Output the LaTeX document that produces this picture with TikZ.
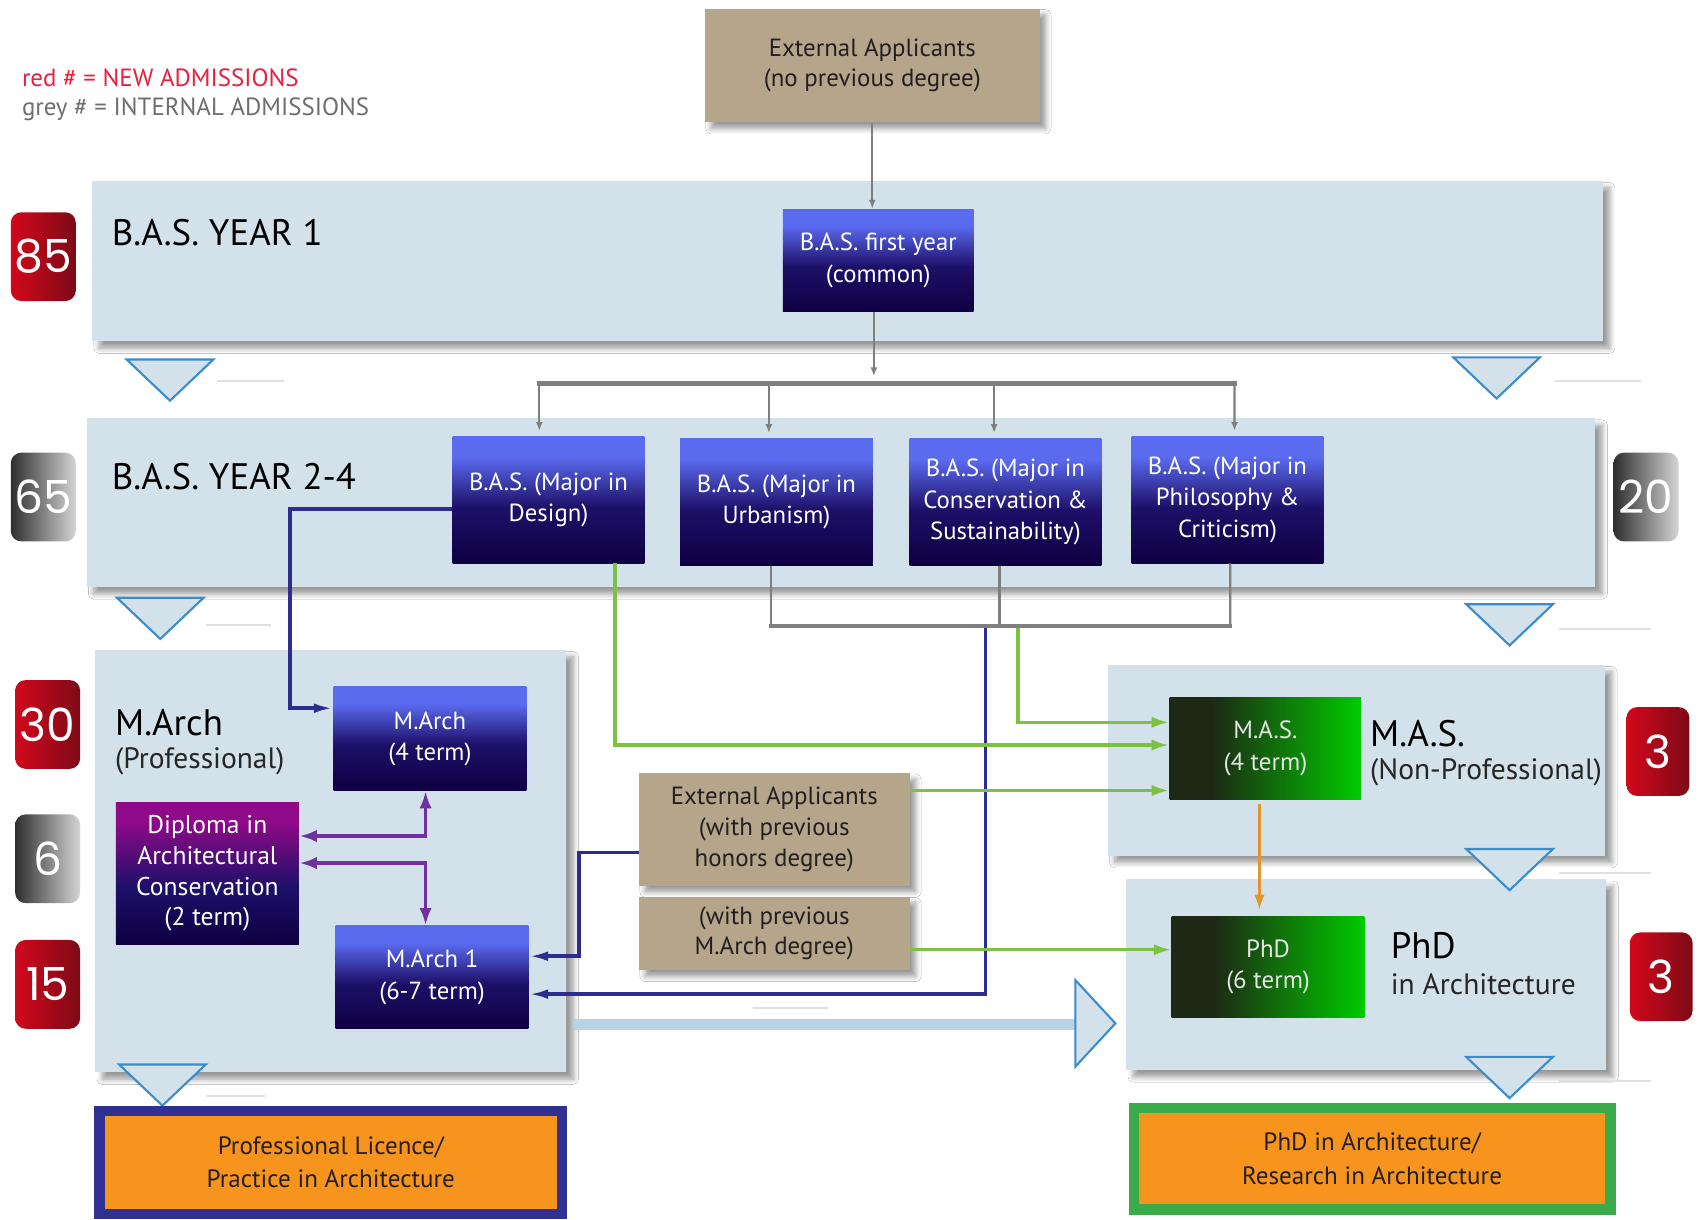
\documentclass[tikz,border=0pt]{standalone}
\usepackage{fontspec}
\setmainfont{PT Sans}
\newfontfamily\badgefont{Poppins}
\usetikzlibrary{arrows.meta,shadows,shadows.blur,calc}

\definecolor{bandc}{HTML}{D3E1EA}
\definecolor{tanc}{HTML}{B5A68B}
\definecolor{navyD}{HTML}{0E0042}
\definecolor{navyM}{HTML}{1D1068}
\definecolor{blueT}{HTML}{5B6BF0}
\definecolor{purT}{HTML}{8E0A88}
\definecolor{greenD}{HTML}{1D2914}
\definecolor{greenB}{HTML}{00CB00}
\definecolor{redL}{HTML}{D2081C}
\definecolor{redR}{HTML}{7D0A16}
\definecolor{greyL}{HTML}{2F2F2F}
\definecolor{greyR}{HTML}{D5D5D5}
\definecolor{legred}{HTML}{E8203F}
\definecolor{leggrey}{HTML}{6E6E6E}
\definecolor{linegrey}{HTML}{7F7F7F}
\definecolor{navyline}{HTML}{2E2C8F}
\definecolor{greenline}{HTML}{7DC142}
\definecolor{purline}{HTML}{7030A0}
\definecolor{orangeline}{HTML}{E3962E}
\definecolor{tric}{HTML}{3B8CCB}
\definecolor{barblue}{HTML}{B7D3E4}
\definecolor{orangefill}{HTML}{F7941D}
\definecolor{bordnavy}{HTML}{2E3192}
\definecolor{bordgreen}{HTML}{3BAA4A}
\definecolor{darktext}{HTML}{231F20}

\pgfdeclareverticalshading{blueboxsh}{100bp}{color(0bp)=(navyD); color(25bp)=(navyD); color(47bp)=(navyM); color(67bp)=(blueT); color(75bp)=(blueT); color(100bp)=(blueT)}
\pgfdeclareverticalshading{purpboxsh}{100bp}{color(0bp)=(navyD); color(25bp)=(navyD); color(45bp)=(navyM); color(68bp)=(purT); color(75bp)=(purT); color(100bp)=(purT)}
\pgfdeclarehorizontalshading{greenboxsh}{100bp}{color(0bp)=(greenD); color(25bp)=(greenD); color(36bp)=(greenD); color(75bp)=(greenB); color(100bp)=(greenB)}
\pgfdeclarehorizontalshading{redbadgesh}{100bp}{color(0bp)=(redL); color(25bp)=(redL); color(75bp)=(redR); color(100bp)=(redR)}
\pgfdeclarehorizontalshading{greybadgesh}{100bp}{color(0bp)=(greyL); color(25bp)=(greyL); color(75bp)=(greyR); color(100bp)=(greyR)}

\newcommand\uu{0.0217cm}

\tikzset{
  band/.style={fill=bandc, draw=none, inner sep=0pt,
    blur shadow={shadow xshift=4pt, shadow yshift=-4pt, shadow blur radius=3pt, shadow blur steps=8, shadow opacity=40}},
  tanbox/.style={fill=tanc, align=center, inner sep=0pt, text=darktext,
    font=\fontsize{14.2}{17.5}\selectfont,
    blur shadow={shadow xshift=3.5pt, shadow yshift=-3.5pt, shadow blur radius=3pt, shadow blur steps=6, shadow opacity=40}},
  bluebox/.style={shade, shading=blueboxsh, align=center, inner sep=0pt, text=white,
    font=\fontsize{14.1}{17.8}\selectfont},
  purpbox/.style={shade, shading=purpboxsh, align=center, inner sep=0pt, text=white,
    font=\fontsize{14.6}{17.6}\selectfont},
  greenbox/.style={shade, shading=greenboxsh, align=center, inner sep=0pt, text=white!90!black,
    font=\fontsize{14.2}{17.8}\selectfont},
  badge/.style={shade, rounded corners=6pt, minimum width=60*\uu, minimum height=82*\uu,
    inner sep=0pt, text=white, font=\badgefont\fontsize{26}{26}\selectfont},
  redbadge/.style={badge, shading=redbadgesh},
  greybadge/.style={badge, shading=greybadgesh},
  title/.style={anchor=west, inner sep=0pt, text=black, font=\fontsize{21}{26}\selectfont},
  subtitle/.style={anchor=west, inner sep=0pt, text=black!85, font=\fontsize{16.8}{20}\selectfont},
  legend/.style={anchor=west, inner sep=0pt, font=\fontsize{14.2}{17}\selectfont},
  outbox/.style={fill=orangefill, line width=6pt, align=center, inner sep=0pt, text=darktext,
    font=\fontsize{14.3}{19}\selectfont},
  greyarr/.style={draw=linegrey, line width=1.3pt, -{Latex[length=5pt,width=4pt]}},
  greyline/.style={draw=linegrey, line width=1.3pt},
  greybar/.style={draw=linegrey, line width=2.6pt, line cap=rect},
  navyarr/.style={draw=navyline, line width=2pt, -{Latex[length=11pt,width=5.5pt]}},
  greenarr/.style={draw=greenline, line width=2pt, -{Latex[length=10pt,width=6.5pt]}},
  purparr/.style={draw=purline, line width=2pt, {Latex[length=10pt,width=7pt]}-{Latex[length=10pt,width=7pt]}},
  orangearr/.style={draw=orangeline, line width=1.8pt, -{Latex[length=9pt,width=6pt]}},
  lbar/.style={draw=barblue, line width=6pt},
  tri/.style={draw=tric, fill=bandc, line width=1.2pt, line join=miter},
  faint/.style={draw=black!12, line width=0.9pt},
  dtri/.pic={\draw[tri] (-40,0) -- (40,0) -- (0,38) -- cycle;}
}

\begin{document}
\begin{tikzpicture}[x=0.0217cm,y=-0.0217cm]
\useasboundingbox[fill=white] (0,0) rectangle (1568,1126);

% legend
\node[legend, text=legred] (leg1) at (20,72) {red \# = NEW ADMISSIONS};
\node[legend, text=leggrey] (leg2) at (20,101) {grey \# = INTERNAL ADMISSIONS};

% bands
\node[band, minimum width=1395*\uu, minimum height=148*\uu] (band1) at (782.5,241) {};
\node[band, minimum width=1393*\uu, minimum height=156*\uu] (band2) at (776.5,464) {};
\node[band, minimum width=435*\uu, minimum height=390*\uu] (band3) at (305.5,795) {};
\node[band, minimum width=459*\uu, minimum height=176*\uu] (band4) at (1252.5,702) {};
\node[band, minimum width=443*\uu, minimum height=176*\uu] (band5) at (1261.5,900) {};

% faint guide lines and triangles
\draw[faint] (200,352) -- (262,352);
\draw[faint] (1436,352) -- (1515,352);
\draw[faint] (190,577) -- (250,577);
\draw[faint] (1440,581) -- (1525,581);
\draw[faint] (1440,806) -- (1525,806);
\draw[faint] (190,1012) -- (245,1012);
\draw[faint] (1440,998) -- (1525,998);
\draw[faint] (695,931) -- (765,931);
\pic at (157,332) {dtri};
\pic at (1382,330) {dtri};
\pic at (148,552) {dtri};
\pic at (1394,558) {dtri};
\pic at (1394,784) {dtri};
\pic at (150,983) {dtri};
\pic at (1394,976) {dtri};

% titles
\node[title] (t1) at (103,215) {B.A.S. YEAR 1};
\node[title] (t2) at (103,440) {B.A.S. YEAR 2-4};
\node[title] (t3) at (106,667) {M.Arch};
\node[subtitle] (t3b) at (106,703) {(Professional)};
\node[title] (t4) at (1265,677) {M.A.S.};
\node[subtitle] (t4b) at (1265,713) {(Non-Professional)};
\node[title] (t5) at (1284,873) {PhD};
\node[subtitle] (t5b) at (1284,909) {in Architecture};

% badges
\node[redbadge] (b85) at (40,237) {85};
\node[greybadge] (b65) at (40,459) {65};
\node[greybadge] (b20) at (1520,459) {20};
\node[redbadge] (b30) at (44,669) {30};
\node[greybadge] (b6) at (44,793) {6};
\node[redbadge] (b15) at (44,909) {15};
\node[redbadge, minimum width=58*\uu] (b3a) at (1531,694) {3};
\node[redbadge, minimum width=58*\uu] (b3b) at (1534,902) {3};

% boxes
\node[tanbox, minimum width=309*\uu, minimum height=105*\uu] (ext1) at (805.5,60.5) {External Applicants\\(no previous degree)};
\node[bluebox, minimum width=176*\uu, minimum height=95*\uu] (first) at (811,240.5) {B.A.S. first year\\(common)};
\node[bluebox, minimum width=177*\uu, minimum height=117*\uu] (design) at (506.5,461.5) {B.A.S. (Major in\\Design)};
\node[bluebox, minimum width=178*\uu, minimum height=117*\uu] (urban) at (717,463.5) {B.A.S. (Major in\\Urbanism)};
\node[bluebox, minimum width=177*\uu, minimum height=117*\uu] (cons) at (928.5,463.5) {B.A.S. (Major in\\Conservation \&\\Sustainability)};
\node[bluebox, minimum width=177*\uu, minimum height=117*\uu] (phil) at (1133.5,461.5) {B.A.S. (Major in\\Philosophy \&\\Criticism)};
\node[bluebox, minimum width=178*\uu, minimum height=96*\uu] (m4) at (397,682) {M.Arch\\(4 term)};
\node[purpbox, minimum width=169*\uu, minimum height=131*\uu] (dipl) at (191.5,806.5) {Diploma in\\Architectural\\Conservation\\(2 term)};
\node[bluebox, minimum width=178*\uu, minimum height=95*\uu] (m1) at (399,902.5) {M.Arch 1\\(6-7 term)};
\node[tanbox, minimum width=250*\uu, minimum height=104*\uu] (ext2) at (715,766) {External Applicants\\(with previous\\honors degree)};
\node[tanbox, minimum width=250*\uu, minimum height=68*\uu] (ext3) at (715,862) {(with previous\\M.Arch degree)};
\node[greenbox, minimum width=177*\uu, minimum height=94*\uu] (mas) at (1168.5,691) {M.A.S.\\(4 term)};
\node[greenbox, minimum width=178*\uu, minimum height=94*\uu] (phd) at (1171,893) {PhD\\(6 term)};
\node[outbox, draw=bordnavy, minimum width=427*\uu, minimum height=95*\uu] (out1) at (305.5,1073.5) {Professional Licence/\\Practice in Architecture};
\node[outbox, draw=bordgreen, minimum width=440*\uu, minimum height=94*\uu] (out2) at (1267,1070) {PhD in Architecture/\\Research in Architecture};

% grey connectors
\coordinate (barL) at (498,354);
\coordinate (barR) at (1140,354);
\coordinate (gbL) at (712,578);
\coordinate (gbR) at (1136,578);
\draw[greyarr] (ext1.south) -- (ext1.south |- first.north);
\draw[greyarr] ($(first.south)+(-4,0)$) -- ++(0,59);
\draw[greybar] (barL) -- (barR);
\draw[greyarr, shorten >=3pt] (barL) -- ($(design.north)+(-8.5,0)$);
\draw[greyarr, shorten >=3pt] (710,354) -- ($(urban.north)+(-7,0)$);
\draw[greyarr, shorten >=3pt] (918,354) -- ($(cons.north)+(-10.5,0)$);
\draw[greyarr, shorten >=3pt] (barR) -- ($(phil.north)+(6.5,0)$);
\draw[greyline] ($(urban.south)+(-5,0)$) -- (gbL);
\draw[greyline] ($(cons.south)+(-5.5,0)$) -- (923,578);
\draw[greyline] ($(phil.south)+(2.5,0)$) -- (gbR);
\draw[greybar] (gbL) -- (gbR);

% navy connectors
\draw[navyarr] ($(design.west)+(0,8.5)$) -- ++(-150,0) |- ($(m4.west)+(0,-28)$);
\draw[navyarr] (910,580) |- ($(m1.east)+(0,15.5)$);
\draw[navyarr] ($(ext2.west)+(0,21)$) -- ++(-55,0) |- ($(m1.east)+(0,-19.5)$);

% green connectors
\draw[greenarr] ($(design.south)+(61.5,0)$) |- ($(mas.west)+(0,-3)$);
\draw[greenarr] (940,580) |- ($(mas.west)+(0,-24)$);
\draw[greenarr] ($(ext2.east)+(0,-36)$) -- ($(mas.west)+(0,39)$);
\draw[greenarr] ($(ext3.east)+(0,15)$) -- ($(phd.west)+(0,-16)$);

% orange
\draw[orangearr] ($(mas.south)+(-5.5,4)$) -- ($(phd.north)+(-8,-5)$);

% purple
\draw[purparr] ($(m4.south)+(-4,0)$) |- ($(dipl.east)+(0,-34.5)$);
\draw[purparr] ($(dipl.east)+(0,-9.5)$) -| ($(m1.north)+(-6,0)$);

% light blue bar to PhD
\coordinate (lbs) at (530,946);
\coordinate (bigtri) at (993,946);
\draw[lbar] (lbs) -- (bigtri);
\draw[tri] (993,905) -- (1030,945) -- (993,985) -- cycle;
\end{tikzpicture}
\end{document}
